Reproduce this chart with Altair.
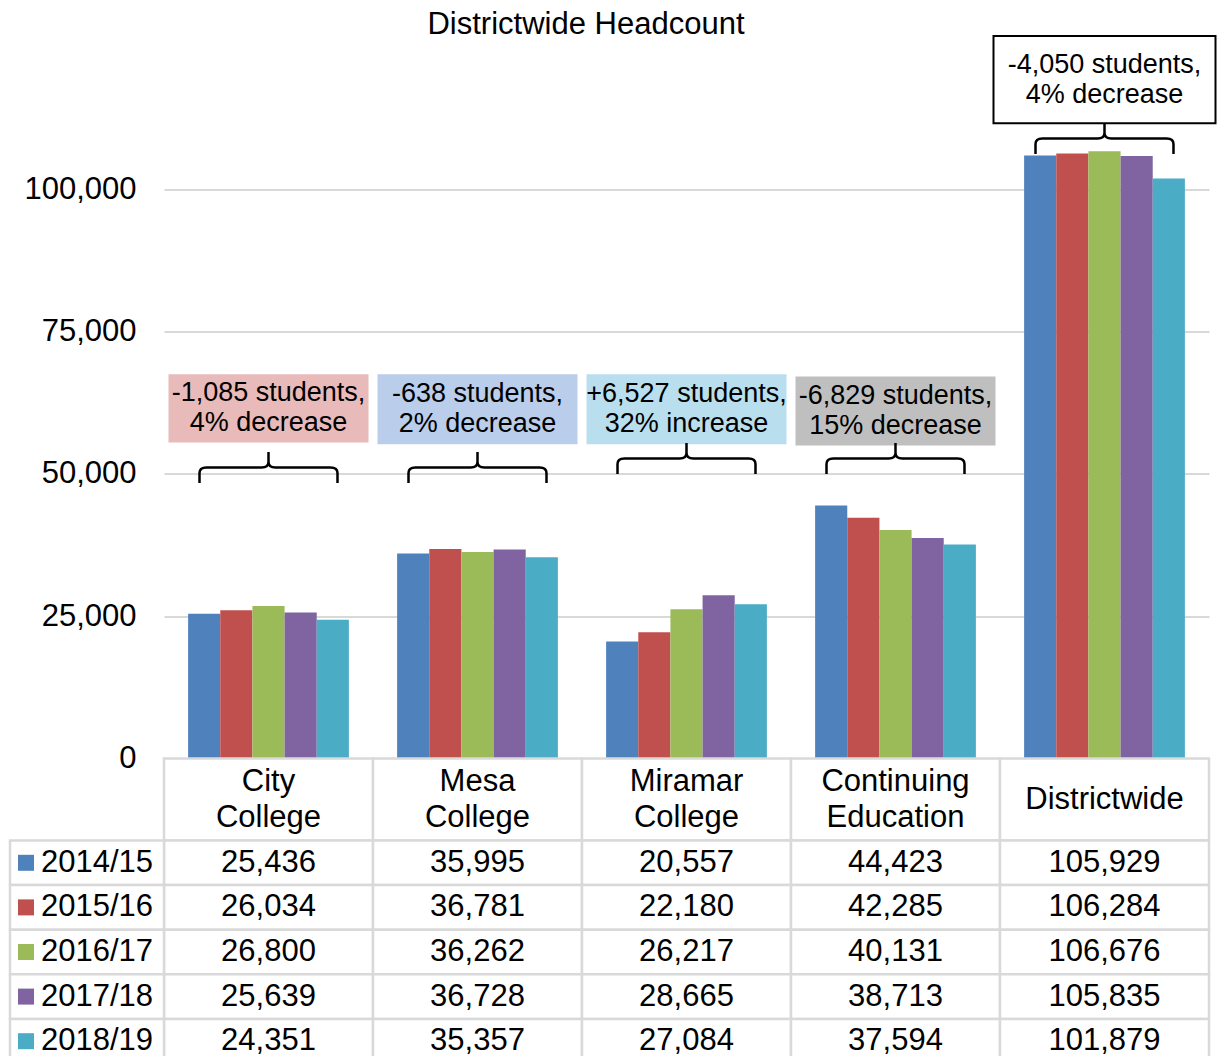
import altair as alt
import pandas as pd

# ---------------- data ----------------
chart_title = "Districtwide Headcount"
categories = ["City College", "Mesa College", "Miramar College",
              "Continuing Education", "Districtwide"]
years = ["2014/15", "2015/16", "2016/17", "2017/18", "2018/19"]
hc_2014_15 = [25436, 35995, 20557, 44423, 105929]
hc_2015_16 = [26034, 36781, 22180, 42285, 106284]
hc_2016_17 = [26800, 36262, 26217, 40131, 106676]
hc_2017_18 = [25639, 36728, 28665, 38713, 105835]
hc_2018_19 = [24351, 35357, 27084, 37594, 101879]
y_ticks = [0, 25000, 50000, 75000, 100000]

note_text = ["-1,085 students,\n4% decrease",
             "-638 students,\n2% decrease",
             "+6,527 students,\n32% increase",
             "-6,829 students,\n15% decrease",
             "-4,050 students,\n4% decrease"]
# annotation anchors in headcount units
note_low = [55500, 55200, 55200, 55000, 111600]
note_high = [67500, 67500, 67500, 67100, 126900]
brace_level = [51100, 51100, 52700, 52700, 108900]

# ---------------- styles ----------------
FONT = "Liberation Sans"
year_colors = ["#4F81BD", "#C0504D", "#9BBB59", "#8064A2", "#4BACC6"]
note_fills = ["#E8BAB9", "#BACDEB", "#B9DEEE", "#BFBFBF", "#FFFFFF"]
GRID = "#D9D9D9"
W = 1045
H = 723
BRACE = ("M -4 0.9 L -4 0.32 Q -4 0 -3.6 0 L -0.4 0 Q 0 0 0 -0.32 L 0 -0.9 "
         "M 0 -0.32 Q 0 0 0.4 0 L 3.6 0 Q 4 0 4 0.32 L 4 0.9")
BRACE_SIZE = 1190

series = [hc_2014_15, hc_2015_16, hc_2016_17, hc_2017_18, hc_2018_19]
rows = []
for yr, vals in zip(years, series):
    for c, v in zip(categories, vals):
        rows.append({"cat": c, "year": yr, "value": v})
df = pd.DataFrame(rows)

notes = pd.DataFrame({"cat": categories, "text": note_text,
                      "lo": note_low, "hi": note_high, "brace": brace_level})
notes["mid"] = (notes["lo"] + notes["hi"]) / 2

x_scale = alt.Scale(domain=categories, paddingInner=0, paddingOuter=0)
x_enc = alt.X("cat:N", sort=categories, scale=x_scale, axis=None)
y_scale = alt.Scale(domain=[0, 127000], nice=False, zero=True)
y_axis = alt.Axis(values=y_ticks, labelExpr="format(datum.value, ',')",
                  labelFontSize=31, labelFont=FONT,
                  labelColor="black", labelPadding=28, domain=False, ticks=False,
                  grid=True, gridColor=GRID, gridWidth=2, title=None)
color_enc = alt.Color("year:N", scale=alt.Scale(domain=years, range=year_colors),
                      legend=None)

bars = alt.Chart(df).mark_bar().encode(
    x=x_enc,
    xOffset=alt.XOffset("year:N", sort=years,
                        scale=alt.Scale(domain=years, paddingInner=0, paddingOuter=0.75)),
    y=alt.Y("value:Q", scale=y_scale, axis=y_axis, title=None),
    color=color_enc,
)

boxes = alt.Chart(notes).transform_filter(
    alt.datum.cat != "Districtwide"
).mark_bar(width=200).encode(
    x=x_enc,
    y=alt.Y("lo:Q", scale=y_scale, axis=y_axis, title=None),
    y2="hi:Q",
    fill=alt.Fill("cat:N", scale=alt.Scale(domain=categories, range=note_fills),
                  legend=None),
)

dist_box = alt.Chart(notes).transform_filter(
    alt.datum.cat == "Districtwide"
).mark_bar(width=222, fill="white", stroke="black", strokeWidth=2).encode(
    x=x_enc,
    y=alt.Y("lo:Q", scale=y_scale, axis=y_axis, title=None),
    y2="hi:Q",
)

note_labels = alt.Chart(notes).mark_text(
    font=FONT, fontSize=27, lineBreak="\n", lineHeight=30, baseline="middle",
    color="black", dy=-15
).encode(
    x=x_enc,
    y=alt.Y("mid:Q", scale=y_scale, axis=y_axis, title=None),
    text="text:N",
)

braces = alt.Chart(notes).mark_point(
    shape=BRACE, size=BRACE_SIZE, filled=False, color="black", strokeWidth=2.5,
    opacity=1
).encode(
    x=x_enc,
    y=alt.Y("brace:Q", scale=y_scale, axis=y_axis, title=None),
)

title_mark = alt.Chart(pd.DataFrame({"t": [chart_title]})).mark_text(
    font=FONT, fontSize=31, baseline="alphabetic", align="center", color="black"
).encode(text="t:N", x=alt.value(422), y=alt.value(-2))

top = alt.layer(bars, boxes, dist_box, note_labels, braces, title_mark).properties(
    width=W, height=H)

# ---------------- table header ----------------
hdr_src = alt.Chart(pd.DataFrame({"cat": categories})).transform_calculate(
    label="replace(datum.cat, ' ', '\\n')"
)
hdr_cells = hdr_src.mark_rect(fill="white", stroke=GRID, strokeWidth=2.5).encode(x=x_enc)
hdr_two = hdr_src.transform_filter("indexof(datum.cat, ' ') >= 0").mark_text(
    font=FONT, fontSize=31, lineBreak="\n", lineHeight=36,
    baseline="middle", color="black", dy=-18).encode(
    x=x_enc, y=alt.value(41), text="label:N")
hdr_one = hdr_src.transform_filter("indexof(datum.cat, ' ') < 0").mark_text(
    font=FONT, fontSize=31, baseline="middle", color="black").encode(
    x=x_enc, y=alt.value(41), text="cat:N")
header = alt.layer(hdr_cells, hdr_two, hdr_one).properties(width=W, height=82)

# ---------------- table body ----------------
y_row = alt.Y("year:N", sort=years,
              scale=alt.Scale(domain=years, paddingInner=0, paddingOuter=0), axis=None)
body_cells = alt.Chart(df).mark_rect(fill="white", stroke=GRID, strokeWidth=2.5).encode(
    x=x_enc, y=y_row)
body_text = alt.Chart(df).mark_text(font=FONT, fontSize=31, baseline="middle",
                                    color="black").encode(
    x=x_enc, y=y_row, text=alt.Text("value:Q", format=","))
yr_df = pd.DataFrame({"year": years})
lab_cells = alt.Chart(yr_df).mark_rect(fill="white", stroke=GRID, strokeWidth=2.5).encode(
    x=alt.value(-154), x2=alt.value(0), y=y_row)
lab_sq = alt.Chart(yr_df).mark_square(size=256, opacity=1).encode(
    x=alt.value(-138), y=y_row, color=color_enc)
lab_text = alt.Chart(yr_df).mark_text(font=FONT, fontSize=31, align="left",
                                      baseline="middle", color="black").encode(
    x=alt.value(-123), y=y_row, text="year:N")
body = alt.layer(body_cells, lab_cells, body_text, lab_sq, lab_text).properties(
    width=W, height=223)

chart = alt.vconcat(top, header, body, spacing=0, bounds="flush",
                    padding={"left": 0, "top": 0.5, "right": 0, "bottom": -10}
                    ).configure(font=FONT).configure_view(stroke=None)

chart.save("out.html", embed_options={"renderer": "svg", "actions": False})
